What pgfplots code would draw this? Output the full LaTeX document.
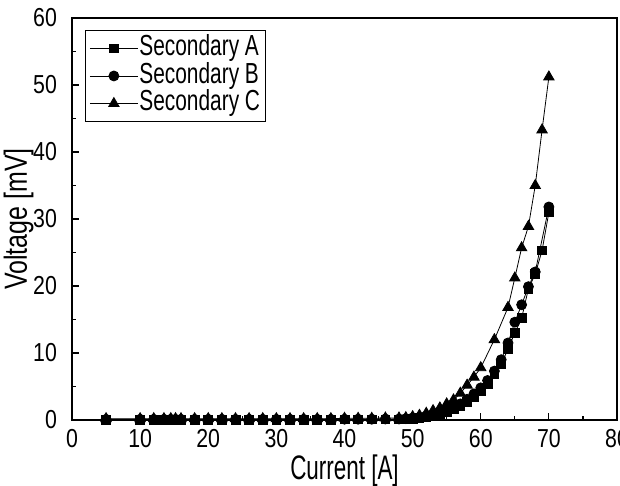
\documentclass[border=0pt]{standalone}
\usepackage{fontspec}
\setmainfont{Liberation Sans}[FakeStretch=0.82]
\newfontfamily\xlabfont{Liberation Sans}[FakeStretch=0.66]
\newfontfamily\ylabfont{Liberation Sans}[FakeStretch=0.78]
\newfontfamily\legfont{Liberation Sans}[FakeStretch=0.72]
\usepackage{pgfplots}
\pgfplotsset{compat=1.18}
\usepackage{pgfplotstable}

\pgfplotstableread{
x y
5 0.05
10 0.05
12 0.05
13.5 0.05
14.5 0.05
15.2 0.05
16 0.05
18 0.05
20 0.05
22 0.05
24 0.05
26 0.05
28 0.05
30 0.05
32 0.05
34 0.05
36 0.05
38 0.05
40 0.08
42 0.08
44 0.08
46 0.08
48 0.1
49 0.1
50 0.2
51 0.3
52 0.4
53 0.6
54 0.9
55 1.2
56 1.6
57 2.1
58 2.7
59 3.4
60 4.3
61 5.4
62 6.8
63 8.3
64 10.6
65 13.0
66 15.2
67 19.6
68 21.8
69 25.3
70 31.0
}\secA

\pgfplotstableread{
x y
5 0.1
10 0.1
12 0.1
13.5 0.1
14.5 0.1
15.2 0.1
16 0.1
18 0.1
20 0.1
22 0.1
24 0.1
26 0.1
28 0.1
30 0.1
32 0.1
34 0.1
36 0.1
38 0.1
40 0.12
42 0.12
44 0.12
46 0.15
48 0.15
49 0.2
50 0.3
51 0.4
52 0.6
53 0.8
54 1.1
55 1.5
56 1.9
57 2.4
58 3.1
59 3.9
60 4.8
61 5.9
62 7.3
63 9.0
64 11.5
65 14.6
66 17.2
67 19.9
68 22.1
70 31.8
}\secB

\pgfplotstableread{
x y
5 0.2
10 0.2
12 0.2
13.5 0.2
14.5 0.2
15.2 0.2
16 0.2
18 0.2
20 0.2
22 0.2
24 0.2
26 0.2
28 0.2
30 0.2
32 0.2
34 0.2
36 0.2
38 0.2
40 0.25
42 0.25
44 0.25
46 0.3
48 0.3
49 0.35
50 0.5
51 0.7
52 1.0
53 1.4
54 1.8
55 2.4
56 3.0
57 4.0
58 5.2
59 6.4
60 7.8
62 12.0
64 16.8
65 21.2
66 25.7
67 28.9
68 35.0
69 43.3
70 51.2
}\secC

\begin{document}
\begin{tikzpicture}
\begin{axis}[
  name=ax,
  width=272.5pt, height=201pt,
  scale only axis,
  xmin=0, xmax=80, ymin=0, ymax=60,
  xtick={0,10,...,80}, ytick={0,10,...,60},
  minor tick num=1,
  tick pos=left,
  tick align=inside,
  major tick length=3.5pt, minor tick length=2pt,
  every tick/.style={black, line width=0.6pt},
  axis line style={line width=0.7pt},
  /pgf/number format/assume math mode=true,
  tick label style={font=\fontsize{13}{14}\selectfont},
  xticklabel style={yshift=-1pt},
  yticklabel style={xshift=-4pt},
  xlabel={\xlabfont Current [A]}, ylabel={\ylabfont Voltage [mV]},
  label style={font=\fontsize{17}{19}\selectfont},
  xlabel style={yshift=3pt},
  ylabel style={at={(axis description cs:-0.083,0.5)}, anchor=base, font=\fontsize{16}{18}\selectfont},
  legend style={at={(rel axis cs:0.024,0.97)}, anchor=north west,
    draw=black, line width=0.5pt, font=\fontsize{14.5}{15}\selectfont\legfont,
    row sep=0pt, inner sep=2pt,
    nodes={inner sep=0.6pt, text height=10pt, text depth=2.6pt}},
  legend cell align=left,
  legend image code/.code={
    \draw[mark repeat=2, mark phase=2, #1] plot coordinates {(0cm,0cm) (0.42cm,0cm) (0.84cm,0cm)};
  },
]
\addplot[black, line width=0.4pt, mark=square*, mark size=2.2pt, mark options={solid}] table {\secA};
\addlegendentry{Secondary A}
\addplot[black, line width=0.4pt, mark=*, mark size=2.5pt, mark options={solid}] table {\secB};
\addlegendentry{Secondary B}
\addplot[black, line width=0.4pt, mark=triangle*, mark size=3pt, mark options={solid}] table {\secC};
\addlegendentry{Secondary C}
\end{axis}
\pgfresetboundingbox
\path[use as bounding box] ([xshift=-36pt,yshift=-33pt]ax.south west) rectangle ([xshift=1.5pt,yshift=9pt]ax.north east);
\end{tikzpicture}
\end{document}
